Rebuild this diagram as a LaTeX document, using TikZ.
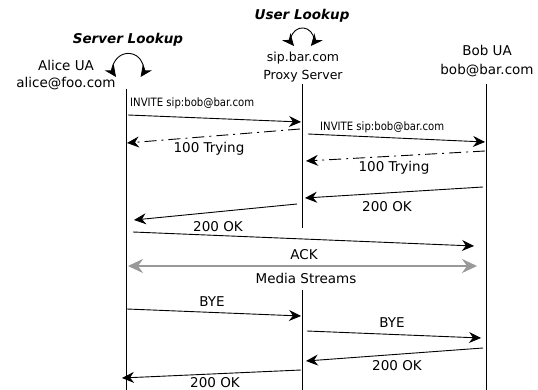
\documentclass[tikz,border=0pt]{standalone}
\usepackage{fontspec}
\setmainfont{DejaVu Sans}
\newfontfamily\condfont[FakeStretch=0.88]{DejaVu Sans}
\usetikzlibrary{arrows.meta}
\tikzset{
  tip/.tip={Stealth[length=12pt,width=11pt,inset=4pt]},
  gtip/.tip={Stealth[length=15pt,width=14pt,inset=5pt]},
  life/.style={draw, line width=0.9pt},
  msg/.style={draw, line width=0.9pt, -tip},
  dmsg/.style={msg, dash pattern=on 12pt off 5pt on 2pt off 5pt},
  lbl/.style={inner sep=0pt, font=\fontsize{13.5}{16}\selectfont},
  slbl/.style={inner sep=0pt, font=\condfont\fontsize{11.5}{13}\selectfont},
  ttl/.style={inner sep=0pt, font=\fontsize{13.5}{15}\selectfont\bfseries\itshape},
  loopy/.style={draw, line width=0.9pt, tip-tip},
}
\begin{document}
\begin{tikzpicture}[x=1pt,y=-1pt]
\useasboundingbox (0,0) rectangle (538,390);
% titles
\node[ttl] (srvlk) at (128,40) {Server Lookup};
\node[ttl] (usrlk) at (302,16) {User Lookup};
% participants
\node[lbl] (aliceA) at (66,65) {Alice UA};
\node[lbl] (aliceB) at (66,84) {alice@foo.com};
\node[lbl, font=\fontsize{12.5}{14}\selectfont] (proxyA) at (303,58) {sip.bar.com};
\node[lbl, font=\fontsize{12.5}{14}\selectfont] (proxyB) at (303,76) {Proxy Server};
\node[lbl] (bobA) at (487,50) {Bob UA};
\node[lbl] (bobB) at (487,71) {bob@bar.com};
% self loops
\draw[loopy] (116,77) arc[start angle=145, end angle=395, radius=15];
\draw[loopy] (294,46) arc[start angle=140, end angle=400, radius=11];
% lifelines
\coordinate (aT) at (126,89); \coordinate (aB) at (126,390);
\coordinate (pT) at (302,84); \coordinate (pM) at (302,228);
\coordinate (pN) at (302,290); \coordinate (pB) at (302,390);
\coordinate (bT) at (486,84); \coordinate (bB) at (486,390);
\path[life] (aT) -- (aB);
\path[life] (pT) -- (pM);
\path[life] (pN) -- (pB);
\path[life] (bT) -- (bB);
% messages
\coordinate (m1s) at (128,115); \coordinate (m1e) at (301,122);
\path[msg] (m1s) -- (m1e);
\node[slbl, anchor=west] (m1l) at (130,103) {INVITE sip:bob@bar.com};

\coordinate (m2s) at (300,129); \coordinate (m2e) at (127,143);
\path[dmsg] (m2s) -- (m2e);
\node[lbl] (m2l) at (209,149) {100 Trying};

\coordinate (m3s) at (308,134); \coordinate (m3e) at (485,142);
\path[msg] (m3s) -- (m3e);
\node[slbl, anchor=west] (m3l) at (320,127) {INVITE sip:bob@bar.com};

\coordinate (m4s) at (485,151); \coordinate (m4e) at (306,161);
\path[dmsg] (m4s) -- (m4e);
\node[lbl] (m4l) at (394,168) {100 Trying};

\coordinate (m5s) at (483,187); \coordinate (m5e) at (305,198);
\path[msg] (m5s) -- (m5e);
\node[lbl] (m5l) at (387,207) {200 OK};

\coordinate (m6s) at (297,204); \coordinate (m6e) at (134,220);
\path[msg] (m6s) -- (m6e);
\node[lbl] (m6l) at (218,227) {200 OK};

\coordinate (m7s) at (133,232); \coordinate (m7e) at (474,246);
\path[msg] (m7s) -- (m7e);
\node[lbl] (m7l) at (304,255) {ACK};

\coordinate (m8s) at (128,266); \coordinate (m8e) at (477,266);
\path[draw, line width=2.4pt, gray!80, gtip-gtip] (m8s) -- (m8e);
\node[lbl] (m8l) at (306,278) {Media Streams};

\coordinate (m9s) at (127,309); \coordinate (m9e) at (301,316);
\path[msg] (m9s) -- (m9e);
\node[lbl] (m9l) at (212,302) {BYE};

\coordinate (m10s) at (307,331); \coordinate (m10e) at (481,338);
\path[msg] (m10s) -- (m10e);
\node[lbl] (m10l) at (392,323) {BYE};

\coordinate (m11s) at (483,348); \coordinate (m11e) at (306,361);
\path[msg] (m11s) -- (m11e);
\node[lbl] (m11l) at (397,366) {200 OK};

\coordinate (m12s) at (301,370); \coordinate (m12e) at (122,378);
\path[msg] (m12s) -- (m12e);
\node[lbl] (m12l) at (215,383) {200 OK};
\end{tikzpicture}
\end{document}
